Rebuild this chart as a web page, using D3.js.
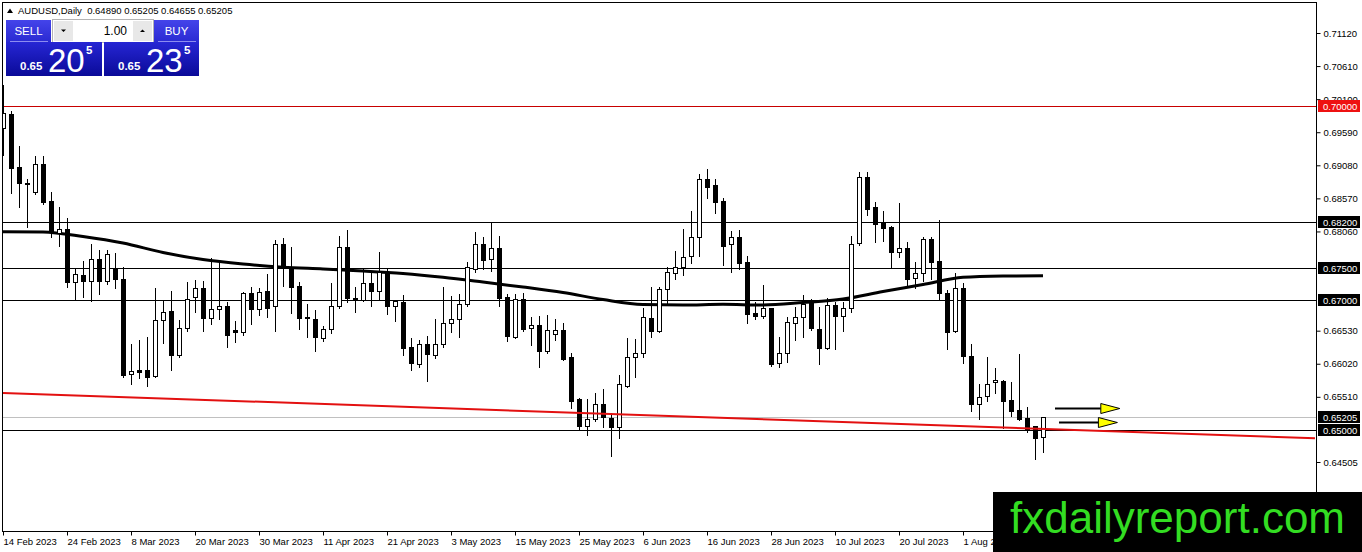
<!DOCTYPE html>
<html>
<head>
<meta charset="utf-8">
<script src="https://cdn.jsdelivr.net/npm/d3@7"></script>
<style>
  body { margin: 0; background: #fff; }
  svg { display: block; font-family: "Liberation Sans", Arial, sans-serif; }
</style>
</head>
<body>
<div id="chart"></div>
<script>
// AUDUSD daily candles, 14 Feb 2023 .. 14 Aug 2023
var symbolName = 'AUDUSD,Daily';
var lastQuote = ['0.64890', '0.65205', '0.64655', '0.65205'];

var opens = [0.6966,0.69871,0.69049,0.68814,0.68673,0.69096,0.6853,0.68041,0.68093,0.67284,
  0.67388,0.673,0.6763,0.67296,0.67486,0.67322,0.65857,0.65924,0.65924,0.65831,
  0.66695,0.66833,0.66155,0.66567,0.67054,0.67184,0.66721,0.6686,0.66911,0.66541,
  0.66514,0.67106,0.6686,0.67147,0.66915,0.67867,0.67517,0.67219,0.66746,0.6671,
  0.66412,0.66551,0.66915,0.67816,0.67029,0.67008,0.6726,0.67147,0.6744,0.66915,
  0.66968,0.66274,0.66016,0.66324,0.66155,0.6632,0.66644,0.66705,0.66937,0.67481,
  0.67867,0.6763,0.678,0.67045,0.66428,0.67014,0.66567,0.66618,0.66221,0.66479,
  0.66541,0.6612,0.65472,0.65065,0.65163,0.65395,0.65188,0.6504,0.65682,0.6613,
  0.66181,0.66721,0.6653,0.67168,0.67415,0.67517,0.67686,0.6798,0.6887,0.68776,
  0.68534,0.67862,0.6797,0.67584,0.66798,0.66761,0.66875,0.66027,0.66181,0.66644,
  0.66736,0.67003,0.66556,0.66268,0.66926,0.66761,0.66875,0.67877,0.68895,0.68432,
  0.68195,0.68124,0.67738,0.678,0.67338,0.67415,0.67939,0.67604,0.67116,0.6653,
  0.67184,0.66144,0.65395,0.65527,0.65746,0.65754,0.65461,0.65307,0.65179,0.65065,
  0.6489];
var highs = [0.70318,0.69917,0.69378,0.68873,0.69223,0.69223,0.68668,0.68442,0.68274,0.67481,
  0.67604,0.67867,0.67774,0.67774,0.67723,0.67507,0.6632,0.66386,0.66428,0.67184,
  0.67003,0.67147,0.66695,0.67285,0.67313,0.67298,0.67646,0.67578,0.66977,0.6668,
  0.67122,0.67199,0.67184,0.67404,0.67928,0.67954,0.67816,0.67276,0.66941,0.66849,
  0.66602,0.6726,0.6799,0.68083,0.67208,0.67481,0.67415,0.67748,0.67481,0.67003,
  0.6708,0.66412,0.66386,0.66448,0.66705,0.67208,0.67065,0.67095,0.67594,0.68047,
  0.67979,0.68201,0.6799,0.67091,0.67091,0.67106,0.66746,0.66756,0.66772,0.66705,
  0.66644,0.66181,0.65487,0.65472,0.65565,0.65626,0.65256,0.65847,0.66412,0.66397,
  0.66875,0.67208,0.67208,0.67517,0.67763,0.68098,0.68375,0.68946,0.69023,0.6887,
  0.6858,0.68067,0.68083,0.67686,0.66968,0.67234,0.66884,0.66428,0.66736,0.669,
  0.6708,0.67014,0.669,0.67029,0.66977,0.66968,0.6799,0.68972,0.68972,0.6851,
  0.6838,0.68144,0.68503,0.67902,0.67584,0.6797,0.6797,0.68237,0.67157,0.67415,
  0.6726,0.66324,0.65703,0.6612,0.6595,0.65769,0.65734,0.6617,0.65358,0.65065,
  0.65205];
var lows = [0.69239,0.68657,0.68432,0.68133,0.68638,0.68483,0.6797,0.6784,0.67208,0.67003,
  0.67054,0.66988,0.67091,0.6725,0.67183,0.65821,0.65703,0.65796,0.65677,0.65816,
  0.66345,0.65924,0.6612,0.6653,0.66823,0.6653,0.66633,0.66705,0.66283,0.6636,
  0.66463,0.66633,0.66772,0.66736,0.6653,0.67219,0.66798,0.66551,0.66437,0.66221,
  0.66375,0.665,0.66875,0.66977,0.66823,0.66992,0.66911,0.67003,0.66787,0.6668,
  0.66155,0.65924,0.65975,0.65754,0.66104,0.66283,0.66514,0.66428,0.66915,0.6744,
  0.67476,0.67455,0.66915,0.66375,0.66417,0.6653,0.66309,0.65967,0.6619,0.66386,
  0.66078,0.65333,0.64998,0.64922,0.65142,0.65049,0.64602,0.6487,0.65666,0.65821,
  0.6612,0.66437,0.66514,0.66941,0.67327,0.67389,0.67578,0.67681,0.68571,0.68349,
  0.67543,0.6743,0.67476,0.66653,0.66705,0.66721,0.6599,0.65975,0.66052,0.66386,
  0.66437,0.66541,0.66016,0.66247,0.66247,0.6653,0.66823,0.67851,0.68314,0.67893,
  0.67917,0.67517,0.67661,0.67234,0.67184,0.673,0.67322,0.67003,0.66247,0.66514,
  0.66027,0.65296,0.65163,0.6545,0.65564,0.65025,0.65214,0.65153,0.64972,0.64551,
  0.64655];
var closes = [0.69882,0.69043,0.68802,0.68799,0.69096,0.68519,0.68056,0.68093,0.67275,0.67398,
  0.673,0.6763,0.673,0.67708,0.67322,0.65847,0.65908,0.65897,0.65811,0.66695,
  0.66813,0.66155,0.66567,0.67014,0.67184,0.66721,0.6686,0.66911,0.66463,0.66514,
  0.67106,0.6686,0.67131,0.66875,0.67867,0.67517,0.67208,0.6673,0.6673,0.66428,
  0.66551,0.66915,0.67816,0.67029,0.67008,0.6726,0.67147,0.6743,0.66915,0.66988,
  0.66268,0.66027,0.66324,0.66166,0.66324,0.66644,0.66705,0.66937,0.67507,0.67867,
  0.6762,0.678,0.67038,0.66453,0.67014,0.66556,0.66618,0.66221,0.66533,0.66541,
  0.66093,0.6545,0.65065,0.65163,0.65395,0.65194,0.6504,0.65703,0.6612,0.66181,
  0.66736,0.6653,0.67168,0.6743,0.67517,0.67671,0.6797,0.6887,0.6875,0.68519,
  0.6784,0.6798,0.67569,0.66787,0.66761,0.66875,0.66012,0.66181,0.66659,0.66736,
  0.66941,0.66567,0.66268,0.66926,0.66761,0.66875,0.67867,0.68895,0.68402,0.6817,
  0.68118,0.67738,0.678,0.67322,0.67415,0.67939,0.67584,0.67106,0.66505,0.67184,
  0.66144,0.65395,0.65512,0.65703,0.65762,0.6545,0.65296,0.65163,0.65014,0.6488,
  0.65205];

// long moving average, read every 5 bars
var maBars = [0,5,10,15,20,25,30,35,40,45,50,55,60,65,70,75,80,85,90,95,100,105,110,115,120,125,130];
var maValues = [0.68056,0.68051,0.67982,0.67882,0.67735,0.67627,0.67558,0.67509,0.67481,0.6745,
  0.67411,0.67353,0.6728,0.67203,0.67118,0.6701,0.66933,0.66926,0.66937,0.66926,
  0.66964,0.67018,0.67134,0.67242,0.67353,0.67373,0.67378];

var priceTicks = [0.71120,0.70610,0.70100,0.69590,0.69080,0.68570,0.68060,0.66530,0.66020,0.65510,0.64505];
var levelPrices = [0.68200, 0.67500, 0.67000, 0.65000];
var resistancePrice = 0.70000;
var bidPrice = 0.65205;

var dateTickBars = [0,8,16,24,32,40,48,56,64,72,80,88,96,104,112,120];
var dateLabels = ['14 Feb 2023','24 Feb 2023','8 Mar 2023','20 Mar 2023','30 Mar 2023','11 Apr 2023',
  '21 Apr 2023','3 May 2023','15 May 2023','25 May 2023','6 Jun 2023','16 Jun 2023','28 Jun 2023',
  '10 Jul 2023','20 Jul 2023','1 Aug 2023'];

var trendBars = [0, 164];
var trendPrices = [0.6557, 0.6487];

var arrowPrices = [0.65342, 0.65126];
var arrowFromBars = [131.5, 132];
var arrowToBars = [139.6, 139.3];

var W = 1362, H = 552;
var plotL = 2.5, plotT = 2.5, plotR = 1316.5, plotB = 531.5;

var svg = d3.select('#chart').append('svg').attr('width', W).attr('height', H);

var x = d3.scaleLinear().domain([0, 164]).range([3, 1315]);
var y = d3.scaleLinear().domain([0.64505, 0.7112]).range([462, 33]);

svg.append('defs').append('clipPath').attr('id', 'plotclip')
  .append('rect').attr('x', plotL).attr('y', plotT)
  .attr('width', plotR - plotL).attr('height', plotB - plotT);

var plot = svg.append('g').attr('clip-path', 'url(#plotclip)');

// horizontal levels
plot.selectAll('line.level').data(levelPrices).enter().append('line')
  .attr('class', 'level')
  .attr('x1', plotL).attr('x2', plotR)
  .attr('y1', function(d) { return Math.round(y(d)) + 0.5; })
  .attr('y2', function(d) { return Math.round(y(d)) + 0.5; })
  .attr('stroke', '#000').attr('stroke-width', 1);

plot.append('line')
  .attr('x1', plotL).attr('x2', plotR)
  .attr('y1', Math.round(y(resistancePrice)) + 0.5).attr('y2', Math.round(y(resistancePrice)) + 0.5)
  .attr('stroke', '#c80000').attr('stroke-width', 1);

plot.append('line')
  .attr('x1', plotL).attr('x2', plotR)
  .attr('y1', Math.round(y(bidPrice)) + 0.5).attr('y2', Math.round(y(bidPrice)) + 0.5)
  .attr('stroke', '#c0c0c0').attr('stroke-width', 1);

// moving average
var maLine = d3.line()
  .x(function(d, i) { return x(maBars[i]); })
  .y(function(d) { return y(d); })
  .curve(d3.curveMonotoneX);
plot.append('path').datum(maValues)
  .attr('d', maLine)
  .attr('fill', 'none').attr('stroke', '#000').attr('stroke-width', 3);

// candles
var bars = d3.range(opens.length);
var candle = plot.selectAll('g.candle').data(bars).enter().append('g')
  .attr('class', 'candle')
  .attr('shape-rendering', 'crispEdges');

candle.append('line')
  .attr('x1', function(i) { return Math.round(x(i)) + 0.5; })
  .attr('x2', function(i) { return Math.round(x(i)) + 0.5; })
  .attr('y1', function(i) { return Math.round(y(highs[i])); })
  .attr('y2', function(i) { return Math.round(y(lows[i])) + 1; })
  .attr('stroke', '#000');

candle.each(function(i) {
  var g = d3.select(this),
      xi = Math.round(x(i)),
      top = Math.round(y(Math.max(opens[i], closes[i]))),
      bot = Math.round(y(Math.min(opens[i], closes[i]))),
      bull = closes[i] >= opens[i];
  if (bot - top < 1) {
    g.append('line')
      .attr('x1', xi - 2).attr('x2', xi + 3)
      .attr('y1', top + 0.5).attr('y2', top + 0.5)
      .attr('stroke', '#000');
  } else {
    g.append('rect')
      .attr('x', xi - 1.5).attr('y', top + 0.5)
      .attr('width', 4).attr('height', bot - top)
      .attr('fill', bull ? '#fff' : '#000')
      .attr('stroke', '#000');
  }
});

// trend line
var trendLine = d3.line()
  .x(function(d, i) { return x(trendBars[i]); })
  .y(function(d) { return y(d); });
plot.append('path').datum(trendPrices)
  .attr('d', trendLine)
  .attr('fill', 'none').attr('stroke', '#e31010').attr('stroke-width', 2);

// arrows
arrowPrices.forEach(function(p, k) {
  var yy = Math.round(y(p)) + 0.5,
      x0 = x(arrowFromBars[k]), x1 = x(arrowToBars[k]),
      head = 19;
  plot.append('line')
    .attr('x1', x0).attr('x2', x1 - head)
    .attr('y1', yy).attr('y2', yy)
    .attr('stroke', '#000').attr('stroke-width', 2);
  plot.append('path')
    .attr('d', 'M' + (x1 - head) + ',' + (yy - 5) + 'L' + x1 + ',' + yy + 'L' + (x1 - head) + ',' + (yy + 5) + 'Z')
    .attr('fill', '#ffff00').attr('stroke', '#000').attr('stroke-width', 1);
});

// frame
svg.append('rect')
  .attr('x', plotL).attr('y', plotT)
  .attr('width', plotR - plotL).attr('height', plotB - plotT)
  .attr('fill', 'none').attr('stroke', '#000').attr('shape-rendering', 'crispEdges');

// price axis
var yAxis = d3.axisRight(y).tickValues(priceTicks).tickSize(4).tickPadding(3)
  .tickFormat(d3.format('.5f'));
var yg = svg.append('g').attr('transform', 'translate(' + plotR + ',0)').call(yAxis);
yg.select('.domain').remove();
yg.selectAll('text').attr('font-family', '"Liberation Sans", Arial, sans-serif')
  .attr('font-size', '9.5px').attr('fill', '#000');
yg.selectAll('line').attr('stroke', '#000');

// date axis
var xAxis = d3.axisBottom(x).tickValues(dateTickBars).tickSize(4).tickPadding(3)
  .tickFormat(function(d, i) { return dateLabels[i]; });
var xg = svg.append('g').attr('transform', 'translate(0,' + plotB + ')').call(xAxis);
xg.select('.domain').remove();
xg.selectAll('text').attr('text-anchor', 'start')
  .attr('font-family', '"Liberation Sans", Arial, sans-serif')
  .attr('font-size', '9.5px').attr('fill', '#000');
xg.selectAll('line').attr('stroke', '#000');

// price boxes on the axis
var boxes = levelPrices.map(function(p) { return {p: p, c: '#000'}; });
boxes.push({p: resistancePrice, c: '#ee1111'});
boxes.push({p: bidPrice, c: '#000'});
var box = svg.selectAll('g.pbox').data(boxes).enter().append('g').attr('class', 'pbox');
box.append('rect')
  .attr('x', 1318).attr('width', 42)
  .attr('y', function(d) { return Math.round(y(d.p)) - 6; })
  .attr('height', 12)
  .attr('fill', function(d) { return d.c; });
box.append('text')
  .attr('x', 1323)
  .attr('y', function(d) { return Math.round(y(d.p)) + 3.5; })
  .attr('font-size', '9.5px').attr('fill', '#fff')
  .text(function(d) { return d3.format('.5f')(d.p); });

// header line
svg.append('path').attr('d', 'M7,13L10,8.5L13,13Z').attr('fill', '#000');
svg.append('text').attr('x', 18).attr('y', 14)
  .attr('font-size', '9.5px').attr('fill', '#000')
  .attr('xml:space', 'preserve')
  .text(symbolName + '  ' + lastQuote.join(' '));

// one-click trading panel
var defs = svg.select('defs');
var gTop = defs.append('linearGradient').attr('id', 'btnTop').attr('x1', 0).attr('x2', 0).attr('y1', 0).attr('y2', 1);
gTop.append('stop').attr('offset', '0%').attr('stop-color', '#4444ea');
gTop.append('stop').attr('offset', '100%').attr('stop-color', '#2a2ad2');
var gLow = defs.append('linearGradient').attr('id', 'btnLow').attr('x1', 0).attr('x2', 0).attr('y1', 0).attr('y2', 1);
gLow.append('stop').attr('offset', '0%').attr('stop-color', '#2626d4');
gLow.append('stop').attr('offset', '100%').attr('stop-color', '#0a0a98');

var panel = svg.append('g');
[[6, 45, 'SELL'], [154, 45, 'BUY']].forEach(function(b) {
  panel.append('rect').attr('x', b[0]).attr('y', 20).attr('width', b[1]).attr('height', 22).attr('fill', 'url(#btnTop)');
  panel.append('line').attr('x1', b[0] + 4).attr('x2', b[0] + b[1] - 3).attr('y1', 41.5).attr('y2', 41.5)
    .attr('stroke', '#8c8cf0');
  panel.append('text').attr('x', b[0] + b[1] / 2).attr('y', 35).attr('text-anchor', 'middle')
    .attr('font-size', '11.5px').attr('fill', '#fff').text(b[2]);
});
panel.append('rect').attr('x', 52.5).attr('y', 19.5).attr('width', 101).attr('height', 23)
  .attr('fill', '#fff').attr('stroke', '#b4b4b4');
panel.append('rect').attr('x', 54).attr('y', 21).attr('width', 19).attr('height', 20).attr('fill', '#e8e8e8');
panel.append('rect').attr('x', 133).attr('y', 21).attr('width', 19).attr('height', 20).attr('fill', '#e8e8e8');
panel.append('path').attr('d', 'M61,29.5L66,29.5L63.5,32Z').attr('fill', '#000');
panel.append('path').attr('d', 'M140,32L145,32L142.5,29.5Z').attr('fill', '#000');
panel.append('text').attr('x', 127).attr('y', 35).attr('text-anchor', 'end')
  .attr('font-size', '12px').attr('fill', '#000').text('1.00');

[[6, 96, '0.65', '20', '5'], [104, 95, '0.65', '23', '5']].forEach(function(b) {
  panel.append('rect').attr('x', b[0]).attr('y', 42).attr('width', b[1]).attr('height', 34).attr('fill', 'url(#btnLow)');
  panel.append('text').attr('x', b[0] + 14).attr('y', 70).attr('font-size', '11.5px').attr('font-weight', 'bold')
    .attr('fill', '#fff').text(b[2]);
  panel.append('text').attr('x', b[0] + 42).attr('y', 72).attr('font-size', '33px')
    .attr('fill', '#fff').text(b[3]);
  panel.append('text').attr('x', b[0] + 80).attr('y', 54).attr('font-size', '11.5px').attr('font-weight', 'bold')
    .attr('fill', '#fff').text(b[4]);
});

// watermark
svg.append('rect').attr('x', 993).attr('y', 492).attr('width', W - 993).attr('height', H - 492).attr('fill', '#000');
svg.append('text').attr('x', 1010).attr('y', 533)
  .attr('font-size', '44px').attr('fill', '#33dd22')
  .text('fxdailyreport.com');
</script>
</body>
</html>
